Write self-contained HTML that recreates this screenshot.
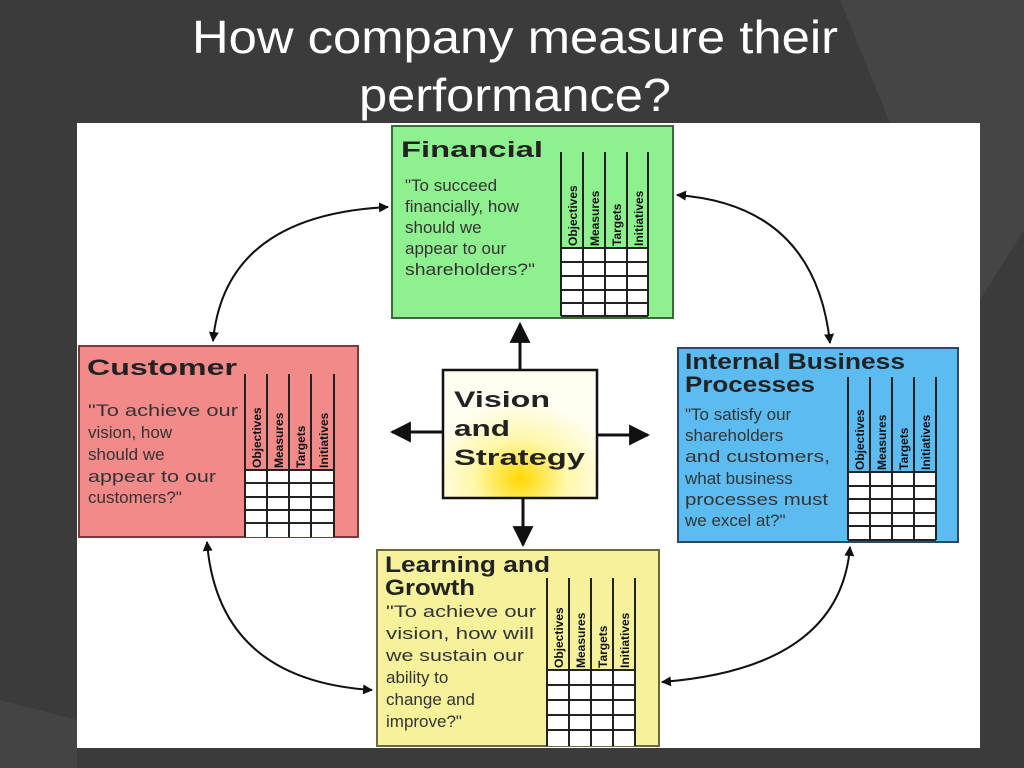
<!DOCTYPE html>
<html><head><meta charset="utf-8"><style>
html,body{margin:0;padding:0;background:#3b3b3b;}
svg{display:block}
text{font-family:"Liberation Sans",Arial,sans-serif}
.h{font-weight:bold;font-size:22px;fill:#222}
.b{font-size:17px;fill:#333}
.c{font-weight:bold;font-size:12px;fill:#111}
.g line{stroke:#222;stroke-width:2}
.a{fill:none;stroke:#111;stroke-width:2}
</style></head><body>
<svg width="1024" height="768" viewBox="0 0 1024 768" xmlns="http://www.w3.org/2000/svg">
<defs>
<marker id="m" viewBox="0 0 10 10" refX="9" refY="5" markerWidth="7" markerHeight="7" orient="auto-start-reverse"><path d="M0,0 L10,5 L0,10 z" fill="#111"/></marker>
<marker id="M" viewBox="0 0 10 10" refX="9" refY="5" markerWidth="5" markerHeight="5" orient="auto-start-reverse"><path d="M0,0 L10,5 L0,10 z" fill="#111"/></marker>
<radialGradient id="y" cx="0.5" cy="0.85" r="0.6"><stop offset="0" stop-color="#ffd800"/><stop offset="0.5" stop-color="#fff7a8"/><stop offset="1" stop-color="#fffef0"/></radialGradient>
</defs>
<rect width="1024" height="768" fill="#3b3b3b"/>
<polygon points="840,0 1024,0 1024,230 980,300 980,123 890,123" fill="#454545"/>
<polygon points="0,700 77,720 77,768 0,768" fill="#444"/>
<text x="515" y="53" text-anchor="middle" font-size="46" fill="#fff" textLength="646" lengthAdjust="spacingAndGlyphs">How company measure their</text>
<text x="515" y="111" text-anchor="middle" font-size="46" fill="#fff" textLength="312" lengthAdjust="spacingAndGlyphs">performance?</text>
<rect x="77" y="123" width="903" height="625" fill="#fff"/>

<path class="a" d="M213,341 Q225,215 388,207" marker-start="url(#M)" marker-end="url(#M)"/>
<path class="a" d="M677,195 Q815,205 830,343" marker-start="url(#M)" marker-end="url(#M)"/>
<path class="a" d="M207,542 Q218,680 372,690" marker-start="url(#M)" marker-end="url(#M)"/>
<path class="a" d="M850,547 Q840,668 662,682" marker-start="url(#M)" marker-end="url(#M)"/>

<!-- financial -->
<rect x="392" y="126" width="281" height="192" fill="#8ef08e" stroke="#3a6a3a" stroke-width="2"/>
<text class="h" x="401" y="157" textLength="142" lengthAdjust="spacingAndGlyphs">Financial</text>
<text class="b" x="405" y="191">"To succeed</text>
<text class="b" x="405" y="212">financially, how</text>
<text class="b" x="405" y="233">should we</text>
<text class="b" x="405" y="254">appear to our</text>
<text class="b" x="405" y="275" textLength="130" lengthAdjust="spacingAndGlyphs">shareholders?"</text>
<rect x="561" y="248" width="87" height="68" fill="#fff"/>
<g class="g"><line x1="561" y1="152" x2="561" y2="316"/><line x1="583" y1="152" x2="583" y2="316"/><line x1="605" y1="152" x2="605" y2="316"/><line x1="627" y1="152" x2="627" y2="316"/><line x1="648" y1="152" x2="648" y2="316"/>
<line x1="561" y1="248" x2="648" y2="248"/><line x1="561" y1="262" x2="648" y2="262"/><line x1="561" y1="276" x2="648" y2="276"/><line x1="561" y1="290" x2="648" y2="290"/><line x1="561" y1="303" x2="648" y2="303"/><line x1="561" y1="316" x2="648" y2="316"/></g>
<g class="c"><text transform="translate(577,246) rotate(-90)">Objectives</text><text transform="translate(599,246) rotate(-90)">Measures</text><text transform="translate(621,246) rotate(-90)">Targets</text><text transform="translate(643,246) rotate(-90)">Initiatives</text></g>

<!-- customer -->
<rect x="79" y="346" width="279" height="191" fill="#f28a8a" stroke="#7a3a3a" stroke-width="2"/>
<text class="h" x="87" y="375" textLength="150" lengthAdjust="spacingAndGlyphs">Customer</text>
<text class="b" x="88" y="416" textLength="150" lengthAdjust="spacingAndGlyphs">"To achieve our</text>
<text class="b" x="88" y="438">vision, how</text>
<text class="b" x="88" y="460">should we</text>
<text class="b" x="88" y="482" textLength="128" lengthAdjust="spacingAndGlyphs">appear to our</text>
<text class="b" x="88" y="503">customers?"</text>
<rect x="245" y="470" width="89" height="67" fill="#fff"/>
<g class="g"><line x1="245" y1="374" x2="245" y2="537"/><line x1="267" y1="374" x2="267" y2="537"/><line x1="289" y1="374" x2="289" y2="537"/><line x1="311" y1="374" x2="311" y2="537"/><line x1="334" y1="374" x2="334" y2="537"/>
<line x1="245" y1="470" x2="334" y2="470"/><line x1="245" y1="483" x2="334" y2="483"/><line x1="245" y1="497" x2="334" y2="497"/><line x1="245" y1="510" x2="334" y2="510"/><line x1="245" y1="523" x2="334" y2="523"/></g>
<g class="c"><text transform="translate(261,468) rotate(-90)">Objectives</text><text transform="translate(283,468) rotate(-90)">Measures</text><text transform="translate(305,468) rotate(-90)">Targets</text><text transform="translate(328,468) rotate(-90)">Initiatives</text></g>

<!-- internal -->
<rect x="678" y="348" width="280" height="194" fill="#5cbcf2" stroke="#2a4a6a" stroke-width="2"/>
<text class="h" x="685" y="369" font-size="20" textLength="220" lengthAdjust="spacingAndGlyphs">Internal Business</text>
<text class="h" x="685" y="392" font-size="20" textLength="130" lengthAdjust="spacingAndGlyphs">Processes</text>
<text class="b" x="685" y="420">"To satisfy our</text>
<text class="b" x="685" y="441">shareholders</text>
<text class="b" x="685" y="462" textLength="145" lengthAdjust="spacingAndGlyphs">and customers,</text>
<text class="b" x="685" y="484">what business</text>
<text class="b" x="685" y="505" textLength="143" lengthAdjust="spacingAndGlyphs">processes must</text>
<text class="b" x="685" y="526">we excel at?"</text>
<rect x="848" y="472" width="88" height="68" fill="#fff"/>
<g class="g"><line x1="848" y1="377" x2="848" y2="540"/><line x1="870" y1="377" x2="870" y2="540"/><line x1="892" y1="377" x2="892" y2="540"/><line x1="914" y1="377" x2="914" y2="540"/><line x1="936" y1="377" x2="936" y2="540"/>
<line x1="848" y1="472" x2="936" y2="472"/><line x1="848" y1="486" x2="936" y2="486"/><line x1="848" y1="499" x2="936" y2="499"/><line x1="848" y1="513" x2="936" y2="513"/><line x1="848" y1="526" x2="936" y2="526"/><line x1="848" y1="540" x2="936" y2="540"/></g>
<g class="c"><text transform="translate(864,470) rotate(-90)">Objectives</text><text transform="translate(886,470) rotate(-90)">Measures</text><text transform="translate(908,470) rotate(-90)">Targets</text><text transform="translate(930,470) rotate(-90)">Initiatives</text></g>

<!-- learning -->
<rect x="377" y="550" width="282" height="196" fill="#f6f29c" stroke="#6a6a3a" stroke-width="2"/>
<text class="h" x="385" y="572" font-size="20" textLength="165" lengthAdjust="spacingAndGlyphs">Learning and</text>
<text class="h" x="385" y="595" font-size="20" textLength="90" lengthAdjust="spacingAndGlyphs">Growth</text>
<text class="b" x="386" y="617" textLength="150" lengthAdjust="spacingAndGlyphs">"To achieve our</text>
<text class="b" x="386" y="639" textLength="148" lengthAdjust="spacingAndGlyphs">vision, how will</text>
<text class="b" x="386" y="661" textLength="138" lengthAdjust="spacingAndGlyphs">we sustain our</text>
<text class="b" x="386" y="683">ability to</text>
<text class="b" x="386" y="705">change and</text>
<text class="b" x="386" y="727">improve?"</text>
<rect x="547" y="670" width="88" height="76" fill="#fff"/>
<g class="g"><line x1="547" y1="578" x2="547" y2="746"/><line x1="569" y1="578" x2="569" y2="746"/><line x1="591" y1="578" x2="591" y2="746"/><line x1="613" y1="578" x2="613" y2="746"/><line x1="635" y1="578" x2="635" y2="746"/>
<line x1="547" y1="670" x2="635" y2="670"/><line x1="547" y1="685" x2="635" y2="685"/><line x1="547" y1="700" x2="635" y2="700"/><line x1="547" y1="715" x2="635" y2="715"/><line x1="547" y1="730" x2="635" y2="730"/></g>
<g class="c"><text transform="translate(563,668) rotate(-90)">Objectives</text><text transform="translate(585,668) rotate(-90)">Measures</text><text transform="translate(607,668) rotate(-90)">Targets</text><text transform="translate(629,668) rotate(-90)">Initiatives</text></g>

<!-- vision -->
<line x1="520" y1="370" x2="520" y2="324" stroke="#111" stroke-width="3" marker-end="url(#m)"/>
<line x1="443" y1="432" x2="392" y2="432" stroke="#111" stroke-width="3" marker-end="url(#m)"/>
<line x1="597" y1="435" x2="648" y2="435" stroke="#111" stroke-width="3" marker-end="url(#m)"/>
<line x1="523" y1="498" x2="523" y2="545" stroke="#111" stroke-width="3" marker-end="url(#m)"/>
<rect x="443" y="370" width="154" height="128" fill="url(#y)" stroke="#111" stroke-width="2.5"/>
<text class="h" x="454" y="407" font-size="25" textLength="96" lengthAdjust="spacingAndGlyphs">Vision</text>
<text class="h" x="454" y="436" font-size="25" textLength="56" lengthAdjust="spacingAndGlyphs">and</text>
<text class="h" x="454" y="465" font-size="25" textLength="131" lengthAdjust="spacingAndGlyphs">Strategy</text>
</svg>
</body></html>
